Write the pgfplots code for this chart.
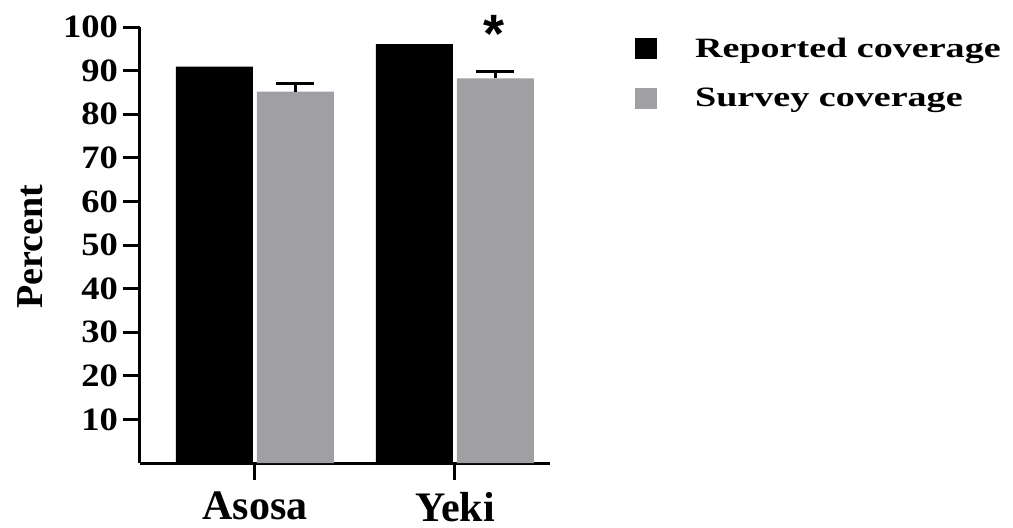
\documentclass[border=0pt]{standalone}
\usepackage{pgfplots}
\pgfplotsset{compat=1.18}
\usepackage{fontspec}
\setmainfont{Liberation Serif}
\newfontfamily\asfont{Liberation Sans}
\newfontfamily\tickfont[FakeStretch=1.12]{Liberation Serif}
\newfontfamily\legfont[FakeStretch=1.36]{Liberation Serif}
\definecolor{survgray}{RGB}{160,159,164}
\begin{document}
\begin{tikzpicture}
\begin{axis}[
  scale only axis,
  width=205pt, height=218pt,
  xmin=-0.575, xmax=1.475,
  ymin=0, ymax=100,
  axis lines*=left,
  axis line style={line width=1.5pt},
  every tick/.style={line width=1.5pt, black},
  major tick length=8.5pt,
  tick align=outside,
  xtick={0,1}, xticklabels={Asosa,Yeki},
  ytick={10,20,...,100},
  /pgf/number format/assume math mode=true,
  yticklabel style={font=\tickfont\fontsize{16.3pt}{18pt}\selectfont\bfseries, xshift=1pt},
  xticklabel style={font=\fontsize{21pt}{23pt}\selectfont\bfseries, yshift=-2.5pt, text depth=0pt},
  ylabel={Percent},
  every axis y label/.style={at={(axis description cs:0,0.5)}, xshift=-55pt, yshift=-1pt, rotate=90, anchor=center,
    font=\fontsize{19pt}{21pt}\selectfont\bfseries},
  ybar=2pt, bar width=38.5pt,
  legend style={draw=none, fill=none, at={(1.192,0.995)}, anchor=north west,
    font=\legfont\fontsize{14pt}{16pt}\selectfont\bfseries, row sep=10pt},
  legend cell align=left,
  legend image code/.code={\fill[#1] (0pt,-5.25pt) rectangle (11pt,5.25pt); \path[draw=none,fill=none] (0pt,0pt) -- (28pt,0pt);},
  clip=false,
]
\addplot[fill=black, draw=none] coordinates {(0,90.9) (1,96.1)};
\addlegendentry{Reported coverage}
\addplot[fill=survgray, draw=none,
  error bars/.cd, y dir=plus, y explicit,
  error bar style={line width=1.5pt, black},
  error mark options={rotate=90, mark size=9.5pt, line width=1.5pt, black}]
  coordinates {(0,85.2) +- (0,1.8) (1,88.2) +- (0,1.6)};
\addlegendentry{Survey coverage}
\node[font=\asfont\fontsize{27pt}{27pt}\selectfont\bfseries] at (axis cs:1.195,98.5) {*};
\end{axis}
\pgfresetboundingbox
\useasboundingbox (-70pt,-32pt) rectangle (436.5pt,231.5pt);
\end{tikzpicture}
\end{document}
